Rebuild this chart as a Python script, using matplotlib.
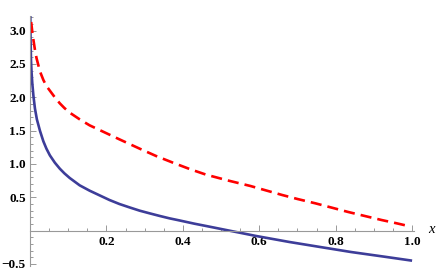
import numpy as np
import matplotlib
matplotlib.use("Agg")
import matplotlib.pyplot as plt
from matplotlib.ticker import MultipleLocator, FixedLocator


# values
blue_x = [0.0008, 0.0015, 0.0026, 0.004, 0.006, 0.009, 0.013, 0.018, 0.026, 0.035,
          0.043, 0.052, 0.065, 0.078, 0.09, 0.104, 0.13, 0.156, 0.182, 0.208,
          0.234, 0.26, 0.287, 0.313, 0.34, 0.365, 0.39, 0.43, 0.461, 0.522,
          0.592, 0.679, 0.754, 0.84, 0.927, 1.0]
blue_y = [3.22, 2.85, 2.56, 2.38, 2.21, 2.02, 1.83, 1.67, 1.50, 1.34,
          1.23, 1.13, 1.02, 0.93, 0.86, 0.79, 0.68, 0.60, 0.53, 0.46,
          0.40, 0.35, 0.30, 0.26, 0.22, 0.185, 0.155, 0.105, 0.07, 0.0,
          -0.08, -0.17, -0.24, -0.32, -0.39, -0.45]

red_x = [0.003, 0.006, 0.009, 0.013, 0.017, 0.026, 0.035, 0.043, 0.052, 0.065,
         0.078, 0.09, 0.104, 0.13, 0.156, 0.182, 0.234, 0.287, 0.33, 0.374,
         0.42, 0.461, 0.52, 0.577, 0.62, 0.66, 0.70, 0.747, 0.79, 0.833,
         0.88, 0.92, 0.96, 0.99]
red_y = [3.13, 2.98, 2.86, 2.71, 2.59, 2.39, 2.26, 2.17, 2.10, 2.00,
         1.91, 1.84, 1.77, 1.67, 1.58, 1.51, 1.37, 1.23, 1.12, 1.02,
         0.92, 0.84, 0.75, 0.67, 0.60, 0.535, 0.475, 0.41, 0.345, 0.28,
         0.215, 0.16, 0.11, 0.07]

x_ticks = [0.2, 0.4, 0.6, 0.8, 1.0]
y_ticks = [-0.5, 0.5, 1.0, 1.5, 2.0, 2.5, 3.0]

fig = plt.figure(figsize=(4.36, 2.71), dpi=100)
ax = fig.add_axes([30 / 436, 5 / 271, 384 / 436, 250 / 271])

ax.plot(blue_x, blue_y, color="#3d3d99", lw=1.9, solid_capstyle="butt")
ax.plot(red_x, red_y, color="#ff0000", lw=1.9, dashes=(4.2, 2.3))

ax.set_xlim(0, 1.005)
ax.set_ylim(-0.53, 3.22)

ax.spines["top"].set_visible(False)
ax.spines["right"].set_visible(False)
ax.spines["bottom"].set_position(("data", 0))
ax.spines["left"].set_position(("data", 0))
for s in ("bottom", "left"):
    ax.spines[s].set_color("#999999")
    ax.spines[s].set_linewidth(0.8)

ax.xaxis.set_major_locator(FixedLocator(x_ticks))
ax.yaxis.set_major_locator(FixedLocator(y_ticks))
ax.xaxis.set_minor_locator(MultipleLocator(0.05))
ax.yaxis.set_minor_locator(MultipleLocator(0.1))
ax.tick_params(which="both", direction="in", color="#999999", width=0.7)
ax.tick_params(which="major", length=4)
ax.tick_params(which="minor", length=2)

tick_font = dict(fontfamily="Liberation Serif", fontweight="bold", fontsize=9.5)
ax.set_xticklabels(["%.1f" % v for v in x_ticks], **tick_font)
ax.set_yticklabels(["%.1f" % v if v > 0 else "\u22120.5" for v in y_ticks], **tick_font)
ax.tick_params(axis="x", pad=4)
ax.tick_params(axis="y", pad=3)

ax.text(1.05, 0.02, "x", fontfamily="Liberation Serif", fontstyle="italic",
        fontsize=10.5, ha="center", va="center", clip_on=False)

fig.savefig("out.png", dpi=100)
